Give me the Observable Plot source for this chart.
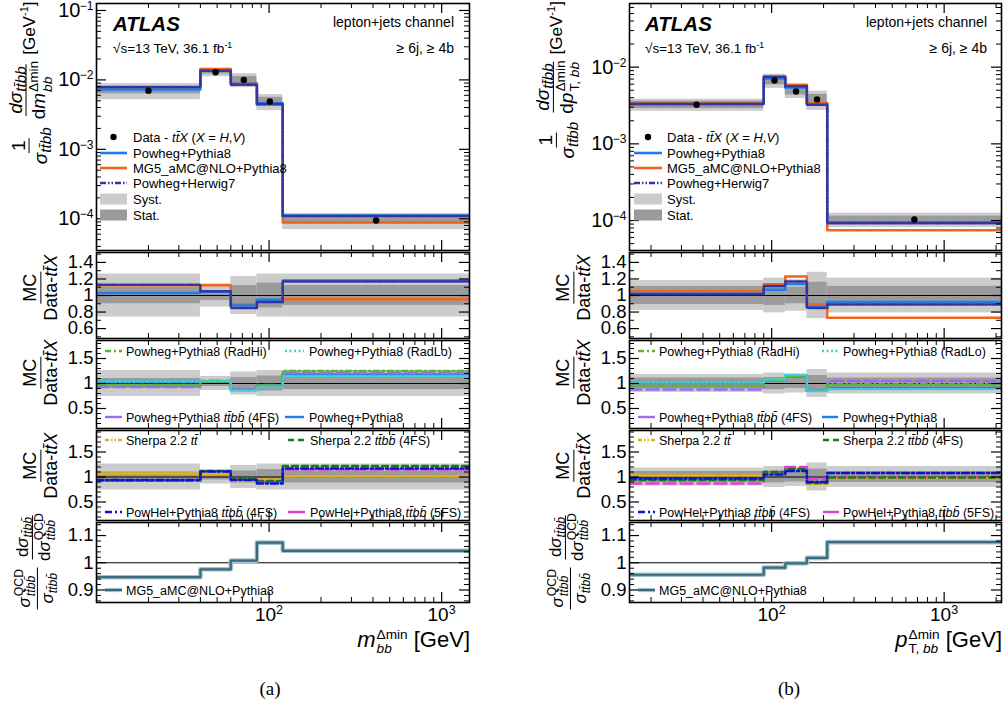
<!DOCTYPE html>
<html><head><meta charset="utf-8">
<script src="https://cdn.jsdelivr.net/npm/d3@7"></script>
<script src="https://cdn.jsdelivr.net/npm/@observablehq/plot@0.6"></script>
<style>
html,body{margin:0;padding:0;background:#fff;}
#root{position:relative;width:1007px;height:713px;overflow:hidden;background:#fff;font-family:"Liberation Sans",Arial,sans-serif;color:#000;}
.ylab{position:absolute;left:0;top:0;transform:rotate(-90deg);transform-origin:50% 50%;white-space:nowrap;display:flex;align-items:center;}
.frac{display:inline-flex;flex-direction:column;align-items:center;margin:0 2px;}
.frac>span{display:block;line-height:1.12;padding:0 2px;white-space:nowrap;}
.frac>.num{border-bottom:1.5px solid #000;}
.ylab sub,.xlab sub{font-size:0.72em;vertical-align:-0.3em;line-height:0;}
.ylab sup,.xlab sup{font-size:0.65em;vertical-align:0.6em;line-height:0;}
.ss{display:inline-flex;flex-direction:column;font-size:0.66em;line-height:1.0;vertical-align:middle;text-align:left;margin-left:1px;}
.xlab{position:absolute;white-space:nowrap;font-size:22px;line-height:22px;text-align:right;}
.xlab .ss{font-size:0.62em;}
.cap{position:absolute;font-family:"Liberation Serif","Times New Roman",serif;font-size:19px;transform:translateX(-50%);}
</style></head><body><div id="root"></div>
<script>
// ---------------- DATA ----------------
// (a) m_bb^{Δmin}
const aEdges = [10, 40, 60, 85, 120, 1450];
const aData = [7.0e-3, 1.29e-2, 1.0e-2, 4.88e-3, 9.45e-5];
const aSyst = [0.26, 0.14, 0.23, 0.26, 0.26];
const aStat = [0.10, 0.06, 0.12, 0.15, 0.12];
const aPowPy8 = [7.25e-3, 1.37e-2, 8.8e-3, 4.61e-3, 1.116e-4];
const aMG5 = [7.85e-3, 1.44e-2, 8.9e-3, 4.4e-3, 8.9e-5];
const aPowH7 = [7.9e-3, 1.36e-2, 8.5e-3, 4.5e-3, 1.1e-4];
const aR1PowPy8 = [1.03, 1.045, 0.88, 0.95, 1.18];
const aR1MG5 = [1.125, 1.125, 0.89, 0.92, 0.955];
const aR1PowH7 = [1.13, 1.05, 0.85, 0.92, 1.17];
const aR2RadHi = [0.97, 1.04, 0.87, 0.96, 1.25];
const aR2RadLo = [1.04, 1.05, 0.86, 0.93, 1.15];
const aR2PP4FS = [0.93, 1.055, 0.88, 0.97, 1.21];
const aR2PowPy8 = [1.03, 1.045, 0.88, 0.95, 1.18];
const aR3SherpaTT = [1.07, 1.06, 0.92, 0.95, 1.01];
const aR3SherpaTTBB = [0.93, 1.12, 0.96, 0.92, 1.22];
const aR3PowHel4 = [0.94, 1.11, 0.94, 0.87, 1.17];
const aR3PowHel5 = [0.93, 1.11, 0.95, 0.90, 1.15];
const aR4MG5 = [0.947, 0.976, 1.008, 1.074, 1.044];

// (b) p_T,bb^{Δmin}
const bEdges = [15, 90, 120, 160, 210, 2150];
const bData = [3.24e-3, 6.7e-3, 4.82e-3, 3.8e-3, 1.03e-4];
const bSyst = [0.18, 0.21, 0.19, 0.28, 0.21];
const bStat = [0.11, 0.12, 0.10, 0.16, 0.11];
const bPowPy8 = [3.3e-3, 7.1e-3, 5.45e-3, 3.25e-3, 9.5e-5];
const bMG5 = [3.4e-3, 7.6e-3, 5.9e-3, 3.4e-3, 7.5e-5];
const bPowH7 = [3.3e-3, 7.45e-3, 5.65e-3, 3.23e-3, 9.2e-5];
const bR1PowPy8 = [1.02, 1.07, 1.14, 0.86, 0.92];
const bR1MG5 = [1.05, 1.135, 1.23, 0.89, 0.73];
const bR1PowH7 = [1.015, 1.115, 1.17, 0.85, 0.89];
const bR2RadHi = [0.95, 1.07, 1.15, 0.86, 0.985];
const bR2RadLo = [1.02, 1.08, 1.17, 0.85, 0.89];
const bR2PP4FS = [0.88, 1.06, 1.15, 0.87, 1.05];
const bR2PowPy8 = [1.01, 1.067, 1.14, 0.86, 0.91];
const bR3SherpaTT = [1.03, 1.08, 1.15, 0.86, 0.98];
const bR3SherpaTTBB = [0.94, 1.10, 1.16, 0.88, 0.99];
const bR3PowHel4 = [0.97, 1.05, 1.12, 0.90, 1.08];
const bR3PowHel5 = [0.87, 1.10, 1.20, 0.96, 1.00];
const bR4MG5 = [0.956, 0.982, 0.998, 1.018, 1.076];

// tick values
const xMajor = [100, 1000];
const aXMinor = [20,30,40,50,60,70,80,90,200,300,400,500,600,700,800,900];
const bXMinor = [20,30,40,50,60,70,80,90,200,300,400,500,600,700,800,900,2000];
const mainYMajor = [1e-5,1e-4,1e-3,1e-2,1e-1];
const r1YMajor = [0.6,0.8,1,1.2,1.4];
const r23YMajor = [0.5,1,1.5];
const r4YMajor = [0.9,1,1.1];

// ---------------- STYLE ----------------
const C = {powpy8:"#1C7CF2", mg5:"#F0641E", powh7:"#34349C", radhi:"#55B82A", radlo:"#3CCFD0",
  pp4fs:"#9C6BF5", sherpatt:"#E2B40E", sherpattbb:"#177A17", powhel4:"#0A14C8", powhel5:"#DD3FDD",
  r4:"#3A6B7C", r4halo:"#A3C1CC", syst:"#cccccc", stat:"#9b9b9b"};
const D = {powh7:"6 2 1.5 2 1.5 2", radhi:"6 3 2 3", radlo:"2 2.5", pp4fs:"12 5",
  sherpatt:"4 2 1.5 2 1.5 2", sherpattbb:"6 4", powhel4:"7 3 2 3", powhel5:"12 5"};

const root = document.getElementById("root");
const FRAME = {a:[96,469], b:[629,1001]};
const ROWS = {main:[3,250], r1:[252,338], r2:[340,428], r3:[430,520], r4:[522,602]};
const FONT = "'Liberation Sans', Arial, sans-serif";

function steps(edges, vals) {
  return vals.map((v,i)=>({x:edges[i], y:v})).concat([{x:edges[edges.length-1], y:vals[vals.length-1]}]);
}
function stepLine(edges, vals, stroke, dash, sw=2.5) {
  return Plot.line(steps(edges, vals), {x:"x", y:"y", curve:"step-after", stroke, strokeWidth:sw, strokeDasharray:dash||null, clip:true});
}
function logMinor(dom) {
  const out=[]; for (let e=-6;e<=0;e++) for (let k=2;k<=9;k++){const v=k*Math.pow(10,e); if(v>dom[0]&&v<dom[1]) out.push(v);} return out;
}
function linMinor(dom, step) {
  const out=[]; for (let v=Math.ceil(dom[0]/step)*step; v<dom[1]; v+=step) out.push(+v.toFixed(4)); return out;
}

function addPanel(col, row, cfg) {
  const [x0,x1] = FRAME[col]; const [y0,y1] = ROWS[row];
  const w = x1-x0, h = y1-y0;
  const mL=70, mR=12, mT=12, mB = cfg.xLabels ? 50 : 12;
  const yDom = cfg.yDomain;
  const yMaj = cfg.yMajor.filter(v=>v>=yDom[0]&&v<=yDom[1]);
  const yMin = cfg.yMinor.filter(v=>v>yDom[0]&&v<yDom[1]&&!yMaj.includes(v));
  const xMin = cfg.xMinor.filter(v=>v>cfg.xDomain[0]&&v<cfg.xDomain[1]);
  const marks = [...cfg.layers,
    Plot.tickY(yMin, {y:d=>d, insetRight:w-5, stroke:"#000", strokeWidth:1}),
    Plot.tickY(yMin, {y:d=>d, insetLeft:w-5, stroke:"#000", strokeWidth:1}),
    Plot.tickY(yMaj, {y:d=>d, insetRight:w-10, stroke:"#000", strokeWidth:1.2}),
    Plot.tickY(yMaj, {y:d=>d, insetLeft:w-10, stroke:"#000", strokeWidth:1.2}),
    Plot.tickX(xMin, {x:d=>d, insetTop:h-5, stroke:"#000", strokeWidth:1}),
    Plot.tickX(xMin, {x:d=>d, insetBottom:h-5, stroke:"#000", strokeWidth:1}),
    Plot.tickX(xMajor, {x:d=>d, insetTop:h-10, stroke:"#000", strokeWidth:1.2}),
    Plot.tickX(xMajor, {x:d=>d, insetBottom:h-10, stroke:"#000", strokeWidth:1.2}),
    Plot.frame({stroke:"#000", strokeWidth:1.6})
  ];
  if (cfg.yType === "log") {
    marks.push(Plot.text(yMaj, {y:d=>d, text:()=>"10", frameAnchor:"left", textAnchor:"end", dx:-16, fontSize:20, fill:"#000"}));
    marks.push(Plot.text(yMaj, {y:d=>d, text:d=>"−"+String(Math.round(-Math.log10(d))), frameAnchor:"left", textAnchor:"end", dx:-3, dy:-4.5, fontSize:12, fill:"#000"}));
  } else {
    marks.push(Plot.text(yMaj, {y:d=>d, text:d=>String(d), frameAnchor:"left", textAnchor:"end", dx:-3, fontSize:18.5, fill:"#000"}));
  }
  if (cfg.xLabels) {
    marks.push(Plot.text(xMajor, {x:d=>d, text:()=>"10", frameAnchor:"bottom", textAnchor:"end", dx:7, dy:18, fontSize:19, fill:"#000"}));
    marks.push(Plot.text(xMajor, {x:d=>d, text:d=>String(Math.round(Math.log10(d))), frameAnchor:"bottom", textAnchor:"start", dx:7, dy:11, fontSize:12.5, fill:"#000"}));
  }
  const svg = Plot.plot({
    width:w+mL+mR, height:h+mT+mB, marginLeft:mL, marginRight:mR, marginTop:mT, marginBottom:mB,
    x:{type:"log", domain:cfg.xDomain, axis:null},
    y:{type:cfg.yType||"linear", domain:yDom, axis:null},
    style:{fontFamily:FONT, background:"transparent", overflow:"visible", color:"#000"},
    marks
  });
  svg.style.position="absolute"; svg.style.left=(x0-mL)+"px"; svg.style.top=(y0-mT)+"px";
  root.appendChild(svg);
}

function mainBands(edges, data, syst, stat) {
  const bs = data.map((v,i)=>({x1:edges[i], x2:edges[i+1], lo:v*(1-syst[i]), hi:v*(1+syst[i]), slo:v*(1-stat[i]), shi:v*(1+stat[i])}));
  return [Plot.rect(bs, {x1:"x1", x2:"x2", y1:"lo", y2:"hi", fill:C.syst, clip:true}),
          Plot.rect(bs, {x1:"x1", x2:"x2", y1:"slo", y2:"shi", fill:C.stat, clip:true})];
}
function ratioBands(edges, syst, stat) {
  const bs = syst.map((s,i)=>({x1:edges[i], x2:edges[i+1], lo:1-s, hi:1+s, slo:1-stat[i], shi:1+stat[i]}));
  return [Plot.rect(bs, {x1:"x1", x2:"x2", y1:"lo", y2:"hi", fill:C.syst, clip:true}),
          Plot.rect(bs, {x1:"x1", x2:"x2", y1:"slo", y2:"shi", fill:C.stat, clip:true}),
          Plot.ruleY([1], {stroke:"#000", strokeWidth:1})];
}

function buildColumn(col, S) {
  const xDomain = [S.edges[0], S.edges[S.edges.length-1]];
  const centers = S.data.map((v,i)=>({x:Math.sqrt(S.edges[i]*S.edges[i+1]), y:v}));
  addPanel(col, "main", {xDomain, xMinor:S.xMinor, yType:"log", yDomain:S.mainDomain, yMajor:mainYMajor, yMinor:logMinor(S.mainDomain),
    layers:[...mainBands(S.edges, S.data, S.syst, S.stat),
      stepLine(S.edges, S.mg5, C.mg5), stepLine(S.edges, S.powpy8, C.powpy8), stepLine(S.edges, S.powh7, C.powh7, D.powh7),
      Plot.dot(centers, {x:"x", y:"y", r:3.2, fill:"#000"})]});
  const r1Dom=[0.48,1.52], r2Dom=[0.1,1.86], r3Dom=[0.13,1.93], r4Dom=[0.854,1.148];
  addPanel(col, "r1", {xDomain, xMinor:S.xMinor, yDomain:r1Dom, yMajor:r1YMajor, yMinor:linMinor(r1Dom,0.1),
    layers:[...ratioBands(S.edges, S.syst, S.stat),
      stepLine(S.edges, S.r1mg5, C.mg5), stepLine(S.edges, S.r1powpy8, C.powpy8), stepLine(S.edges, S.r1powh7, C.powh7, D.powh7)]});
  addPanel(col, "r2", {xDomain, xMinor:S.xMinor, yDomain:r2Dom, yMajor:r23YMajor, yMinor:linMinor(r2Dom,0.1),
    layers:[...ratioBands(S.edges, S.syst, S.stat),
      stepLine(S.edges, S.r2powpy8, C.powpy8), stepLine(S.edges, S.r2pp4fs, C.pp4fs, D.pp4fs),
      stepLine(S.edges, S.r2radhi, C.radhi, D.radhi), stepLine(S.edges, S.r2radlo, C.radlo, D.radlo)]});
  addPanel(col, "r3", {xDomain, xMinor:S.xMinor, yDomain:r3Dom, yMajor:r23YMajor, yMinor:linMinor(r3Dom,0.1),
    layers:[...ratioBands(S.edges, S.syst, S.stat),
      stepLine(S.edges, S.r3sherpatt, C.sherpatt, D.sherpatt), stepLine(S.edges, S.r3powhel5, C.powhel5, D.powhel5),
      stepLine(S.edges, S.r3sherpattbb, C.sherpattbb, D.sherpattbb), stepLine(S.edges, S.r3powhel4, C.powhel4, D.powhel4)]});
  addPanel(col, "r4", {xDomain, xMinor:S.xMinor, yDomain:r4Dom, yMajor:r4YMajor, yMinor:linMinor(r4Dom,0.02), xLabels:true,
    layers:[Plot.ruleY([1], {stroke:"#000", strokeWidth:1}),
      stepLine(S.edges, S.r4mg5, C.r4halo, null, 4.6), stepLine(S.edges, S.r4mg5, C.r4, null, 2.2)]});
}

buildColumn("a", {edges:aEdges, data:aData, syst:aSyst, stat:aStat, xMinor:aXMinor, mainDomain:[3.49e-5, 0.126],
  powpy8:aPowPy8, mg5:aMG5, powh7:aPowH7, r1powpy8:aR1PowPy8, r1mg5:aR1MG5, r1powh7:aR1PowH7,
  r2radhi:aR2RadHi, r2radlo:aR2RadLo, r2pp4fs:aR2PP4FS, r2powpy8:aR2PowPy8,
  r3sherpatt:aR3SherpaTT, r3sherpattbb:aR3SherpaTTBB, r3powhel4:aR3PowHel4, r3powhel5:aR3PowHel5, r4mg5:aR4MG5});
buildColumn("b", {edges:bEdges, data:bData, syst:bSyst, stat:bStat, xMinor:bXMinor, mainDomain:[4.07e-5, 0.0676],
  powpy8:bPowPy8, mg5:bMG5, powh7:bPowH7, r1powpy8:bR1PowPy8, r1mg5:bR1MG5, r1powh7:bR1PowH7,
  r2radhi:bR2RadHi, r2radlo:bR2RadLo, r2pp4fs:bR2PP4FS, r2powpy8:bR2PowPy8,
  r3sherpatt:bR3SherpaTT, r3sherpattbb:bR3SherpaTTBB, r3powhel4:bR3PowHel4, r3powhel5:bR3PowHel5, r4mg5:bR4MG5});

// ---------------- OVERLAY: legends and labels ----------------
const TT = "tt\u0304";
const svg = d3.select(root).append("svg").attr("width",1007).attr("height",713)
  .style("position","absolute").style("left","0px").style("top","0px").style("font-family",FONT);

function txt(x, y, parts, size, anchor="start", extra={}) {
  const t = svg.append("text").attr("x",x).attr("y",y).attr("font-size",size).attr("text-anchor",anchor).attr("fill","#000");
  Object.entries(extra).forEach(([k,v])=>t.attr(k,v));
  parts.forEach(p => {
    const s = t.append("tspan").text(p[0]);
    if (p[1]==="i") s.attr("font-style","italic");
    if (p[1]==="sup") s.attr("font-size",size*0.65).attr("dy",-size*0.4);
  });
}
function legLine(x1,x2,y,color,dash,sw=2.5){
  svg.append("line").attr("x1",x1).attr("x2",x2).attr("y1",y).attr("y2",y).attr("stroke",color).attr("stroke-width",sw).attr("stroke-dasharray",dash||null);
}

const mainLegend = [
  {kind:"dot", label:[["Data - "],[TT+"X","i"],[" ("],["X","i"],[" = "],["H","i"],[","],["V","i"],[")"]]},
  {kind:"line", color:C.powpy8, label:[["Powheg+Pythia8"]]},
  {kind:"line", color:C.mg5, label:[["MG5_aMC@NLO+Pythia8"]]},
  {kind:"line", color:C.powh7, dash:D.powh7, label:[["Powheg+Herwig7"]]},
  {kind:"box", color:C.syst, label:[["Syst."]]},
  {kind:"box", color:C.stat, label:[["Stat."]]}
];
const mainLegY = [137, 153, 168, 183, 199, 215];
function mainLeg(x0, x1, tx) {
  mainLegend.forEach((e,i)=>{
    const y = mainLegY[i];
    if (e.kind==="dot") svg.append("circle").attr("cx",(x0+x1)/2).attr("cy",y).attr("r",3.2).attr("fill","#000");
    if (e.kind==="line") legLine(x0,x1,y,e.color,e.dash,2.6);
    if (e.kind==="box") svg.append("rect").attr("x",x0).attr("y",y-5.5).attr("width",x1-x0).attr("height",11).attr("fill",e.color);
    txt(tx, y+4.5, e.label, 13);
  });
}
mainLeg(100,127,133);
mainLeg(634,662,667);

function header(xl, xr) {
  txt(xl, 31, [["ATLAS"]], 20.5, "start", {"font-weight":"bold","font-style":"italic"});
  txt(xl, 53, [["\u221As=13 TeV, 36.1 fb"],["-1","sup"]], 13.5);
  txt(xr, 27, [["lepton+jets channel"]], 14, "end");
  txt(xr, 53, [["\u2265 6j, \u2265 4b"]], 14, "end");
}
header(113, 454);
header(645, 987);

const r2Legend = [
  {row:0, col:0, color:C.radhi, dash:D.radhi, label:[["Powheg+Pythia8 (RadHi)"]]},
  {row:0, col:1, color:C.radlo, dash:D.radlo, label:[["Powheg+Pythia8 (RadLo)"]]},
  {row:1, col:0, color:C.pp4fs, dash:null, label:[["Powheg+Pythia8 "],[TT+"bb\u0304","i"],[" (4FS)"]]},
  {row:1, col:1, color:C.powpy8, dash:null, label:[["Powheg+Pythia8"]]}
];
const r3Legend = [
  {row:0, col:0, color:C.sherpatt, dash:D.sherpatt, label:[["Sherpa 2.2 "],[TT,"i"]]},
  {row:0, col:1, color:C.sherpattbb, dash:D.sherpattbb, label:[["Sherpa 2.2 "],[TT+"bb\u0304","i"],[" (4FS)"]]},
  {row:1, col:0, color:C.powhel4, dash:D.powhel4, label:[["PowHel+Pythia8 "],[TT+"bb\u0304","i"],[" (4FS)"]]},
  {row:1, col:1, color:C.powhel5, dash:null, label:[["PowHel+Pythia8 "],[TT+"bb\u0304","i"],[" (5FS)"]]}
];
function ratioLeg(entries, rowsY, colsX) {
  entries.forEach(e=>{
    const y = rowsY[e.row]; const c = colsX[e.col];
    legLine(c[0], c[1], y, e.color, e.dash, 2.4);
    txt(c[2], y+4.5, e.label, 12.5);
  });
}
ratioLeg(r2Legend, [351, 417], [[105,122,126],[285,304,309]]);
ratioLeg(r2Legend, [351, 417], [[638,655,659],[822,838,843]]);
ratioLeg(r3Legend, [440, 512], [[105,122,126],[288,305,310]]);
ratioLeg(r3Legend, [440, 512], [[638,655,659],[823,839,843]]);
[[105,122,126],[638,655,659]].forEach(c=>{
  legLine(c[0],c[1],590,C.r4halo,null,4.2); legLine(c[0],c[1],590,C.r4,null,2);
  txt(c[2], 594.5, [["MG5_aMC@NLO+Pythia8"]], 12.5);
});

// ---------------- HTML math labels ----------------
const TTBB = "<i>tt&#772;bb</i>";
const TTBBB = "<i>tt&#772;bb&#772;</i>";
const placements = [];
function addRot(html, barX, opt) {
  const d=document.createElement("div"); d.innerHTML=html.trim();
  const el = d.firstChild; root.appendChild(el);
  placements.push([el, barX, opt]);
}
function placeAll() {
  const R = root.getBoundingClientRect();
  placements.forEach(([el, barX, opt])=>{
    el.style.left='0px'; el.style.top='0px';
    const bb = el.getBoundingClientRect();
    const bar = el.querySelector('.num').getBoundingClientRect();
    const dx = barX - (bar.right - R.left);
    const dy = (opt.top !== undefined) ? opt.top - (bb.top - R.top) : opt.cy - ((bb.top+bb.bottom)/2 - R.top);
    el.style.left = dx+'px'; el.style.top = dy+'px';
  });
}
function addHTML(html){ const d=document.createElement("div"); d.innerHTML=html; while(d.firstChild) root.appendChild(d.firstChild); }

function mainYLabel(dvar) {
  return `<div class="ylab" style="font-size:19px">
   <span class="frac"><span class="num">1</span><span class="den"><i>σ</i><sub style="font-size:0.8em">${TTBB}</sub></span></span>
   <span class="frac"><span class="num"><i>dσ</i><sub style="font-size:0.8em">${TTBB}</sub></span><span class="den">d${dvar}</span></span>
   <span style="font-size:17px;margin-left:2px">[GeV<sup>-1</sup>]</span></div>`;
}
addRot(mainYLabel(`<i>m</i><span class="ss" style="font-size:0.72em"><span>Δmin</span><span><i>bb</i></span></span>`), 30, {top:1});
addRot(mainYLabel(`<i>p</i><span class="ss" style="font-size:0.72em"><span>Δmin</span><span>T, <i>bb</i></span></span>`), 557, {top:1});
function ratioLabel() {
  return `<div class="ylab" style="font-size:18px"><span class="frac"><span class="num">MC</span><span class="den">Data-<i>tt&#772;X</i></span></span></div>`;
}
[[42,38],[575,571]].forEach(([cx, cx4])=>{
  addRot(ratioLabel(), cx, {cy:288}); addRot(ratioLabel(), cx, {cy:373}); addRot(ratioLabel(), cx, {cy:466});
  addRot(`<div class="ylab" style="font-size:17px">
   <span class="frac"><span class="num"><i>σ</i><span class="ss" style="font-size:0.72em"><span>QCD</span><span>${TTBBB}</span></span></span><span class="den"><i>σ</i><sub>${TTBBB}</sub></span></span>
   <span class="frac"><span class="num">d<i>σ</i><sub>${TTBBB}</sub></span><span class="den">d<i>σ</i><span class="ss" style="font-size:0.72em"><span>QCD</span><span>${TTBBB}</span></span></span></span></div>`, cx4, {cy:560});
});
placeAll();
if (document.fonts && document.fonts.ready) document.fonts.ready.then(placeAll);

addHTML(`<div class="xlab" style="right:${1007-470}px;top:628px"><i>m</i><span class="ss"><span>Δmin</span><span><i>bb</i></span></span> [GeV]</div>`);
addHTML(`<div class="xlab" style="right:${1007-1002}px;top:628px"><i>p</i><span class="ss"><span>Δmin</span><span>T, <i>bb</i></span></span> [GeV]</div>`);
addHTML(`<div class="cap" style="left:270px;top:678px">(a)</div>`);
addHTML(`<div class="cap" style="left:789px;top:678px">(b)</div>`);
</script></body></html>
